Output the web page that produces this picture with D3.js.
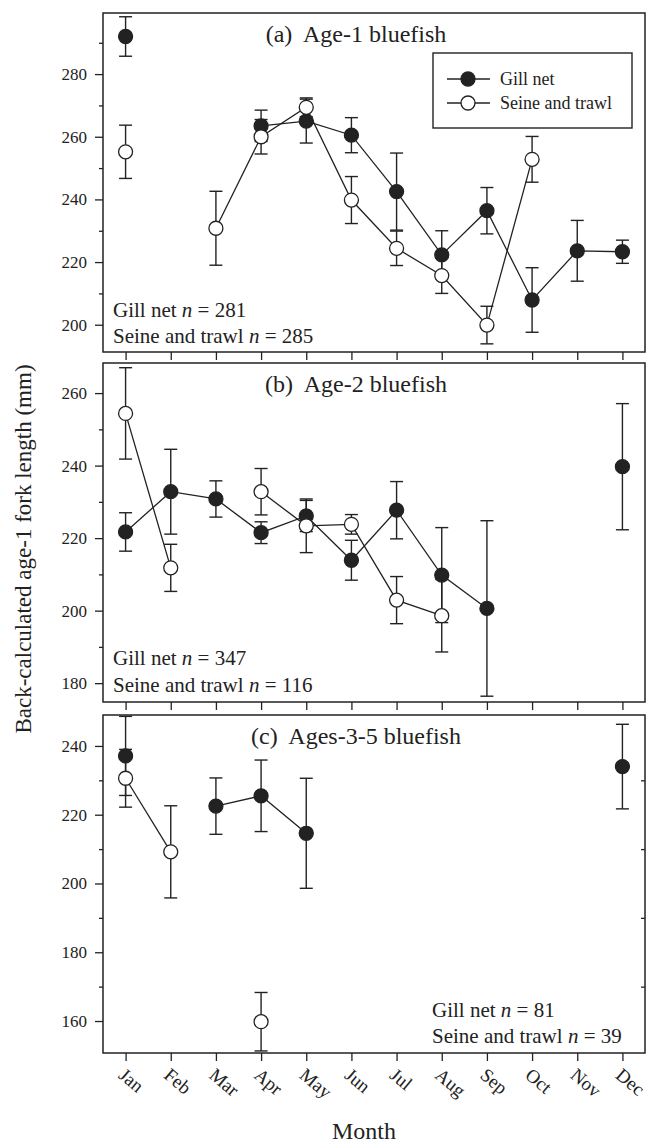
<!DOCTYPE html>
<html>
<head>
<script src="https://d3js.org/d3.v7.min.js"></script>
<style>
  body { margin: 0; background: #fff; }
  svg { font-family: "Liberation Serif", "Times New Roman", serif; }
</style>
</head>
<body>
<div id="chart"></div>
<script>
// months on the x axis
const months = ["Jan", "Feb", "Mar", "Apr", "May", "Jun", "Jul", "Aug", "Sep", "Oct", "Nov", "Dec"];

// (a) Age-1 bluefish
const gillA     = [292.0, null, null, 263.5, 265.0, 260.5, 242.5, 222.3, 236.4, 207.9, 223.6, 223.3];
const gillAErr  = [6.3, null, null, 5.0, 7.0, 5.6, 12.3, 7.7, 7.4, 10.3, 9.7, 3.7];
const seineA    = [255.2, null, 230.8, 260.0, 269.4, 239.8, 224.4, 215.7, 199.9, 252.8, null, null];
const seineAErr = [8.5, null, 11.8, 5.5, 3.0, 7.5, 5.5, 5.7, 6.0, 7.3, null, null];

// (b) Age-2 bluefish
const gillB     = [221.7, 232.8, 230.8, 221.5, 226.1, 213.9, 227.7, 209.8, 200.6, null, null, 239.7];
const gillBErr  = [5.3, 11.7, 5.0, 3.0, 4.3, 5.5, 7.9, 13.1, 24.2, null, null, 17.4];
const seineB    = [254.4, 211.8, null, 232.8, 223.4, 223.8, 202.9, 198.6, null, null, null, null];
const seineBErr = [12.6, 6.5, null, 6.4, 7.4, 2.7, 6.5, 10.0, null, null, null, null];

// (c) Ages-3-5 bluefish
const gillC     = [237.1, null, 222.5, 225.5, 214.6, null, null, null, null, null, null, 234.0];
const gillCErr  = [11.5, null, 8.2, 10.4, 16.0, null, null, null, null, null, null, 12.3];
const seineC    = [230.6, 209.2, null, 159.8, null, null, null, null, null, null, null, null];
const seineCErr = [8.4, 13.4, null, 8.5, null, null, null, null, null, null, null, null];

// tick labels on the y axes
const yTicksA = [200, 220, 240, 260, 280];
const yTicksB = [180, 200, 220, 240, 260];
const yTicksC = [160, 180, 200, 220, 240];

const seriesNames = ["Gill net", "Seine and trawl"];

const width = 654, height = 1144;
const left = 103, right = 645;
const ink = "#222";

const svg = d3.select("#chart").append("svg")
    .attr("width", width)
    .attr("height", height);

const x = d3.scaleLinear().domain([0.5, 12.5]).range([left, right]);

const panels = [
    { top: 13,  bottom: 352,  domain: [191.3, 299.5], ticks: yTicksA,
      gill: gillA, gillErr: gillAErr, seine: seineA, seineErr: seineAErr,
      title: "(a)  Age-1 bluefish", n: ["281", "285"], nx: 113, ny: [317, 343], legend: true },
    { top: 363, bottom: 702,  domain: [174.8, 268.3], ticks: yTicksB,
      gill: gillB, gillErr: gillBErr, seine: seineB, seineErr: seineBErr,
      title: "(b)  Age-2 bluefish", n: ["347", "116"], nx: 113, ny: [665, 692] },
    { top: 715, bottom: 1053, domain: [150.7, 249.0], ticks: yTicksC,
      gill: gillC, gillErr: gillCErr, seine: seineC, seineErr: seineCErr,
      title: "(c)  Ages-3-5 bluefish", n: ["81", "39"], nx: 432, ny: [1017, 1043], rightTicks: true, labels: true }
];

panels.forEach(p => {
    const y = d3.scaleLinear().domain(p.domain).range([p.bottom, p.top]);
    const g = svg.append("g");

    // minor ticks every 10 between the labelled ones
    const minor = d3.range(Math.ceil(p.domain[0] / 10) * 10, p.domain[1], 10)
        .filter(v => !p.ticks.includes(v));

    const yAxis = g.append("g")
        .attr("transform", `translate(${left},0)`)
        .call(d3.axisLeft(y).tickValues(p.ticks).tickSize(8).tickPadding(8));
    yAxis.select(".domain").remove();
    yAxis.selectAll("line").attr("stroke", ink).attr("stroke-width", 1.3);
    yAxis.selectAll("text").attr("font-size", 17).attr("fill", ink)
        .attr("font-family", "Liberation Serif, serif");

    const yMinor = g.append("g")
        .attr("transform", `translate(${left},0)`)
        .call(d3.axisLeft(y).tickValues(minor).tickSize(4).tickFormat(""));
    yMinor.select(".domain").remove();
    yMinor.selectAll("line").attr("stroke", ink).attr("stroke-width", 1.3);

    if (p.rightTicks) {
        const yr = g.append("g")
            .attr("transform", `translate(${right},0)`)
            .call(d3.axisRight(y).tickValues(minor).tickSize(-4).tickFormat(""));
        yr.select(".domain").remove();
        yr.selectAll("line").attr("stroke", ink).attr("stroke-width", 1.3);
    }

    const xAxis = g.append("g")
        .attr("transform", `translate(0,${p.bottom})`)
        .call(d3.axisBottom(x).tickValues(d3.range(1, 13)).tickSize(8).tickFormat(""));
    xAxis.select(".domain").remove();
    xAxis.selectAll("line").attr("stroke", ink).attr("stroke-width", 1.3);

    if (p.labels) {
        g.selectAll(".mlab")
            .data(months)
            .enter().append("text")
            .attr("class", "mlab")
            .attr("transform", (d, i) => `translate(${x(i + 1) - 8},${p.bottom + 24}) rotate(40)`)
            .attr("font-size", 19)
            .attr("fill", ink)
            .text(d => d);
    }

    // frame
    g.append("rect")
        .attr("x", left).attr("y", p.top)
        .attr("width", right - left).attr("height", p.bottom - p.top)
        .attr("fill", "none").attr("stroke", ink).attr("stroke-width", 1.5);

    // panel title
    g.append("text")
        .attr("x", 356).attr("y", p.top + 29)
        .attr("text-anchor", "middle")
        .attr("font-size", 24)
        .attr("fill", ink)
        .style("white-space", "pre")
        .text(p.title);

    // sample sizes
    [["Gill net ", p.n[0]], ["Seine and trawl ", p.n[1]]].forEach((row, k) => {
        const t = g.append("text")
            .attr("x", p.nx).attr("y", p.ny[k])
            .attr("font-size", 21)
            .attr("fill", ink)
            .style("white-space", "pre");
        t.append("tspan").text(row[0]);
        t.append("tspan").attr("font-style", "italic").text("n");
        t.append("tspan").text(" = " + row[1]);
    });

    const clip = "clip" + p.top;
    g.append("clipPath").attr("id", clip)
        .append("rect")
        .attr("x", left).attr("y", p.top)
        .attr("width", right - left).attr("height", p.bottom - p.top);

    const plot = g.append("g").attr("clip-path", `url(#${clip})`);

    const line = d3.line()
        .defined(d => d.v != null)
        .x(d => x(d.m))
        .y(d => y(d.v));

    [[p.gill, p.gillErr, ink], [p.seine, p.seineErr, "#fff"]].forEach(([vals, errs, fill]) => {
        const pts = vals.map((v, i) => ({ m: i + 1, v: v, e: errs[i] }));
        const have = pts.filter(d => d.v != null);

        // error bars
        const eb = plot.append("g")
            .attr("stroke", ink).attr("stroke-width", 1.4);
        eb.selectAll(".stem").data(have).enter().append("line")
            .attr("x1", d => x(d.m)).attr("x2", d => x(d.m))
            .attr("y1", d => y(d.v - d.e)).attr("y2", d => y(d.v + d.e));
        eb.selectAll(".capHi").data(have).enter().append("line")
            .attr("x1", d => x(d.m) - 6.5).attr("x2", d => x(d.m) + 6.5)
            .attr("y1", d => y(d.v + d.e)).attr("y2", d => y(d.v + d.e));
        eb.selectAll(".capLo").data(have).enter().append("line")
            .attr("x1", d => x(d.m) - 6.5).attr("x2", d => x(d.m) + 6.5)
            .attr("y1", d => y(d.v - d.e)).attr("y2", d => y(d.v - d.e));

        plot.append("path")
            .datum(pts)
            .attr("fill", "none")
            .attr("stroke", ink)
            .attr("stroke-width", 1.3)
            .attr("d", line);

        plot.selectAll(null).data(have).enter().append("circle")
            .attr("cx", d => x(d.m)).attr("cy", d => y(d.v))
            .attr("r", 7)
            .attr("fill", fill)
            .attr("stroke", ink).attr("stroke-width", 1.3);
    });

    if (p.legend) {
        const lg = g.append("g");
        lg.append("rect")
            .attr("x", 433).attr("y", 53).attr("width", 199).attr("height", 75)
            .attr("fill", "#fff").attr("stroke", ink).attr("stroke-width", 1.4);
        seriesNames.forEach((name, k) => {
            const yy = 79 + k * 24;
            lg.append("line")
                .attr("x1", 447).attr("x2", 490).attr("y1", yy).attr("y2", yy)
                .attr("stroke", ink).attr("stroke-width", 1.3);
            lg.append("circle")
                .attr("cx", 468).attr("cy", yy).attr("r", 7)
                .attr("fill", k === 0 ? ink : "#fff")
                .attr("stroke", ink).attr("stroke-width", 1.3);
            lg.append("text")
                .attr("x", 500).attr("y", yy + 6)
                .attr("font-size", 18)
                .attr("fill", ink)
                .text(name);
        });
    }
});

// axis titles
svg.append("text")
    .attr("x", 364).attr("y", 1139)
    .attr("text-anchor", "middle")
    .attr("font-size", 24)
    .attr("fill", ink)
    .text("Month");

svg.append("text")
    .attr("transform", "translate(31,549) rotate(-90)")
    .attr("text-anchor", "middle")
    .attr("font-size", 23)
    .attr("fill", ink)
    .text("Back-calculated age-1 fork length (mm)");
</script>
</body>
</html>
